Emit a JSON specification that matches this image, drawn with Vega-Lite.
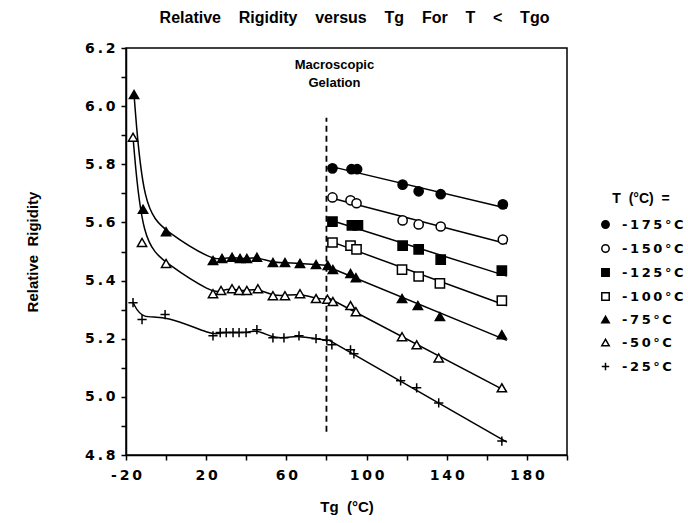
{
  "$schema": "https://vega.github.io/schema/vega-lite/v6.json",
  "width": 441,
  "height": 407,
  "autosize": {"type": "none"},
  "padding": {"left": 126, "top": 48, "right": 121, "bottom": 68},
  "background": "white",
  "config": {
    "view": {"stroke": "black", "strokeWidth": 1.5},
    "axis": {
      "grid": false,
      "domainColor": "black",
      "domainWidth": 1.5,
      "tickColor": "black",
      "tickWidth": 1.5,
      "tickSize": 5,
      "labelColor": "black",
      "labelFont": "DejaVu Sans",
      "labelFontWeight": "bold",
      "labelFontSize": 14,
      "titleColor": "black",
      "titleFont": "Liberation Sans Narrow, Liberation Sans",
      "titleFontWeight": "bold",
      "titleFontSize": 15
    }
  },
  "title": {
    "text": "Relative\u00a0\u00a0\u00a0 Rigidity\u00a0\u00a0\u00a0 versus\u00a0\u00a0\u00a0 Tg\u00a0\u00a0\u00a0 For\u00a0\u00a0\u00a0 T\u00a0\u00a0\u00a0 <\u00a0\u00a0\u00a0 Tgo",
    "font": "Liberation Sans Narrow, Liberation Sans",
    "fontSize": 16,
    "fontWeight": "bold",
    "color": "black",
    "offset": 15,
    "dx": 8
  },
  "data": {
    "values": [
      {"T": "-175°C", "Tg": 83, "R": 5.786, "part": "R"},
      {"T": "-175°C", "Tg": 92.5, "R": 5.783, "part": "R"},
      {"T": "-175°C", "Tg": 95.3, "R": 5.783, "part": "R"},
      {"T": "-175°C", "Tg": 118, "R": 5.73, "part": "R"},
      {"T": "-175°C", "Tg": 126, "R": 5.707, "part": "R"},
      {"T": "-175°C", "Tg": 137, "R": 5.697, "part": "R"},
      {"T": "-175°C", "Tg": 168, "R": 5.662, "part": "R"},

      {"T": "-150°C", "Tg": 83, "R": 5.686, "part": "R"},
      {"T": "-150°C", "Tg": 92, "R": 5.676, "part": "R"},
      {"T": "-150°C", "Tg": 95, "R": 5.666, "part": "R"},
      {"T": "-150°C", "Tg": 118, "R": 5.607, "part": "R"},
      {"T": "-150°C", "Tg": 126, "R": 5.593, "part": "R"},
      {"T": "-150°C", "Tg": 137, "R": 5.586, "part": "R"},
      {"T": "-150°C", "Tg": 168, "R": 5.541, "part": "R"},

      {"T": "-125°C", "Tg": 83, "R": 5.603, "part": "R"},
      {"T": "-125°C", "Tg": 92.7, "R": 5.59, "part": "R"},
      {"T": "-125°C", "Tg": 95.7, "R": 5.59, "part": "R"},
      {"T": "-125°C", "Tg": 118, "R": 5.52, "part": "R"},
      {"T": "-125°C", "Tg": 126, "R": 5.507, "part": "R"},
      {"T": "-125°C", "Tg": 137, "R": 5.472, "part": "R"},
      {"T": "-125°C", "Tg": 167.5, "R": 5.434, "part": "R"},

      {"T": "-100°C", "Tg": 83, "R": 5.531, "part": "R"},
      {"T": "-100°C", "Tg": 92, "R": 5.52, "part": "R"},
      {"T": "-100°C", "Tg": 95, "R": 5.507, "part": "R"},
      {"T": "-100°C", "Tg": 117.7, "R": 5.438, "part": "R"},
      {"T": "-100°C", "Tg": 126, "R": 5.414, "part": "R"},
      {"T": "-100°C", "Tg": 136.6, "R": 5.39, "part": "R"},
      {"T": "-100°C", "Tg": 167.5, "R": 5.331, "part": "R"},

      {"T": "-75°C", "Tg": -16, "R": 6.04, "part": "L"},
      {"T": "-75°C", "Tg": -11.5, "R": 5.645, "part": "L"},
      {"T": "-75°C", "Tg": 0, "R": 5.568, "part": "L"},
      {"T": "-75°C", "Tg": 23.4, "R": 5.469, "part": "L"},
      {"T": "-75°C", "Tg": 27.9, "R": 5.476, "part": "L"},
      {"T": "-75°C", "Tg": 32.9, "R": 5.48, "part": "L"},
      {"T": "-75°C", "Tg": 36.9, "R": 5.476, "part": "L"},
      {"T": "-75°C", "Tg": 40.3, "R": 5.476, "part": "L"},
      {"T": "-75°C", "Tg": 45.3, "R": 5.48, "part": "L"},
      {"T": "-75°C", "Tg": 53.3, "R": 5.462, "part": "L"},
      {"T": "-75°C", "Tg": 59.3, "R": 5.462, "part": "L"},
      {"T": "-75°C", "Tg": 66.8, "R": 5.459, "part": "L"},
      {"T": "-75°C", "Tg": 74.8, "R": 5.455, "part": "L"},
      {"T": "-75°C", "Tg": 80.7, "R": 5.452, "part": "B"},
      {"T": "-75°C", "Tg": 83.2, "R": 5.438, "part": "R"},
      {"T": "-75°C", "Tg": 92, "R": 5.424, "part": "R"},
      {"T": "-75°C", "Tg": 94.7, "R": 5.41, "part": "R"},
      {"T": "-75°C", "Tg": 117.7, "R": 5.338, "part": "R"},
      {"T": "-75°C", "Tg": 125.6, "R": 5.314, "part": "R"},
      {"T": "-75°C", "Tg": 136.6, "R": 5.276, "part": "R"},
      {"T": "-75°C", "Tg": 167.5, "R": 5.214, "part": "R"},

      {"T": "-50°C", "Tg": -16.5, "R": 5.893, "part": "L"},
      {"T": "-50°C", "Tg": -12, "R": 5.531, "part": "L"},
      {"T": "-50°C", "Tg": 0, "R": 5.459, "part": "L"},
      {"T": "-50°C", "Tg": 23.4, "R": 5.355, "part": "L"},
      {"T": "-50°C", "Tg": 27.4, "R": 5.366, "part": "L"},
      {"T": "-50°C", "Tg": 32.9, "R": 5.372, "part": "L"},
      {"T": "-50°C", "Tg": 36.4, "R": 5.366, "part": "L"},
      {"T": "-50°C", "Tg": 40.3, "R": 5.366, "part": "L"},
      {"T": "-50°C", "Tg": 45.8, "R": 5.372, "part": "L"},
      {"T": "-50°C", "Tg": 53.3, "R": 5.348, "part": "L"},
      {"T": "-50°C", "Tg": 59.3, "R": 5.348, "part": "L"},
      {"T": "-50°C", "Tg": 66.8, "R": 5.355, "part": "L"},
      {"T": "-50°C", "Tg": 74.8, "R": 5.338, "part": "L"},
      {"T": "-50°C", "Tg": 80.5, "R": 5.336, "part": "B"},
      {"T": "-50°C", "Tg": 83.2, "R": 5.328, "part": "R"},
      {"T": "-50°C", "Tg": 92, "R": 5.314, "part": "R"},
      {"T": "-50°C", "Tg": 94.7, "R": 5.293, "part": "R"},
      {"T": "-50°C", "Tg": 117.7, "R": 5.207, "part": "R"},
      {"T": "-50°C", "Tg": 125, "R": 5.179, "part": "R"},
      {"T": "-50°C", "Tg": 136, "R": 5.134, "part": "R"},
      {"T": "-50°C", "Tg": 167.5, "R": 5.031, "part": "R"},

      {"T": "-25°C", "Tg": -16.5, "R": 5.324, "part": "L"},
      {"T": "-25°C", "Tg": -12, "R": 5.266, "part": "L"},
      {"T": "-25°C", "Tg": -0.5, "R": 5.283, "part": "L"},
      {"T": "-25°C", "Tg": 23.4, "R": 5.21, "part": "L"},
      {"T": "-25°C", "Tg": 27, "R": 5.221, "part": "L"},
      {"T": "-25°C", "Tg": 30, "R": 5.221, "part": "L"},
      {"T": "-25°C", "Tg": 33.4, "R": 5.221, "part": "L"},
      {"T": "-25°C", "Tg": 36.4, "R": 5.221, "part": "L"},
      {"T": "-25°C", "Tg": 39.9, "R": 5.221, "part": "L"},
      {"T": "-25°C", "Tg": 45.3, "R": 5.231, "part": "L"},
      {"T": "-25°C", "Tg": 53.3, "R": 5.203, "part": "L"},
      {"T": "-25°C", "Tg": 58.8, "R": 5.203, "part": "L"},
      {"T": "-25°C", "Tg": 66.3, "R": 5.21, "part": "L"},
      {"T": "-25°C", "Tg": 74.8, "R": 5.2, "part": "L"},
      {"T": "-25°C", "Tg": 80.2, "R": 5.195, "part": "B"},
      {"T": "-25°C", "Tg": 82.7, "R": 5.179, "part": "R"},
      {"T": "-25°C", "Tg": 92, "R": 5.162, "part": "R"},
      {"T": "-25°C", "Tg": 93.7, "R": 5.148, "part": "R"},
      {"T": "-25°C", "Tg": 117, "R": 5.055, "part": "R"},
      {"T": "-25°C", "Tg": 125, "R": 5.031, "part": "R"},
      {"T": "-25°C", "Tg": 136, "R": 4.979, "part": "R"},
      {"T": "-25°C", "Tg": 167.5, "R": 4.848, "part": "R"}
    ]
  },
  "encoding": {
    "x": {
      "field": "Tg",
      "type": "quantitative",
      "scale": {"domain": [-20, 200], "nice": false, "zero": false},
      "axis": {
        "title": "Tg\u00a0 (°C)",
        "values": [-20, 0, 20, 40, 60, 80, 100, 120, 140, 160, 180, 200],
        "labelExpr": "indexof([-20, 20, 60, 100, 140, 180], datum.value) >= 0 ? join(split(toString(datum.value), ''), '\u2009') : ''",
        "labelPadding": 8,
        "titlePadding": 17,
        "labelFlush": false,
        "labelOverlap": false
      }
    },
    "y": {
      "field": "R",
      "type": "quantitative",
      "scale": {"domain": [4.8, 6.2], "nice": false, "zero": false},
      "axis": {
        "title": "Relative\u00a0 Rigidity",
        "values": [4.8, 4.9, 5.0, 5.1, 5.2, 5.3, 5.4, 5.5, 5.6, 5.7, 5.8, 5.9, 6.0, 6.1, 6.2],
        "labelExpr": "round(datum.value * 10) % 2 == 0 ? join(split(format(datum.value, '.1f'), ''), '\u2009') : ''",
        "labelPadding": 6,
        "titlePadding": 44,
        "labelFlush": false,
        "labelOverlap": false
      }
    }
  },
  "layer": [
    {
      "data": {"values": [{"x": 80, "y1": 4.88, "y2": 5.96}]},
      "mark": {"type": "rule", "color": "black", "strokeWidth": 1.8, "strokeDash": [6, 4]},
      "encoding": {
        "x": {"field": "x", "type": "quantitative"},
        "y": {"field": "y1", "type": "quantitative"},
        "y2": {"field": "y2"}
      }
    },
    {
      "data": {"values": [{"x": 84, "y": 6.14, "label": "Macroscopic"}]},
      "mark": {
        "type": "text",
        "text": ["Macroscopic", "Gelation"],
        "font": "Liberation Sans Narrow, Liberation Sans",
        "fontWeight": "bold",
        "fontSize": 13,
        "lineHeight": 18,
        "align": "center",
        "baseline": "middle",
        "color": "black"
      },
      "encoding": {
        "x": {"field": "x", "type": "quantitative"},
        "y": {"field": "y", "type": "quantitative"}
      }
    },
    {
      "transform": [{"filter": "datum.part !== 'R'"}],
      "mark": {"type": "line", "interpolate": "basis", "color": "black", "strokeWidth": 1.5},
      "encoding": {"detail": {"field": "T"}}
    },
    {
      "transform": [
        {"filter": "datum.part !== 'L'"},
        {"regression": "R", "on": "Tg", "groupby": ["T"], "extent": [81, 170]}
      ],
      "mark": {"type": "line", "color": "black", "strokeWidth": 1.5},
      "encoding": {"detail": {"field": "T"}}
    },
    {
      "mark": {"type": "point", "filled": true, "stroke": "black", "strokeWidth": 1.5, "size": 85, "opacity": 1},
      "encoding": {
        "shape": {
          "field": "T",
          "type": "nominal",
          "scale": {
            "domain": ["-175°C", "-150°C", "-125°C", "-100°C", "-75°C", "-50°C", "-25°C"],
            "range": ["circle", "circle", "square", "square", "triangle-up", "triangle-up", "M-1,0H1M0,-1V1"]
          },
          "legend": {
            "title": "T\u00a0 (°C)\u00a0 =",
            "orient": "none",
            "legendX": 473,
            "legendY": 144,
            "titleFont": "Liberation Sans Narrow, Liberation Sans",
            "titleFontSize": 14,
            "titleFontWeight": "bold",
            "titleColor": "black",
            "titleAnchor": "middle",
            "titlePadding": 12,
            "labelFont": "DejaVu Sans",
            "labelFontWeight": "bold",
            "labelFontSize": 13,
            "labelColor": "black",
            "labelExpr": "join(split(datum.label, ''), '\u2009')",
            "labelOffset": 10,
            "rowPadding": 9,
            "symbolSize": 55,
            "encode": {"symbols": {"update": {"stroke": {"value": "black"}, "strokeWidth": {"value": 1.5}, "opacity": {"value": 1}}}}
          }
        },
        "fill": {
          "field": "T",
          "type": "nominal",
          "scale": {
            "domain": ["-175°C", "-150°C", "-125°C", "-100°C", "-75°C", "-50°C", "-25°C"],
            "range": ["black", "white", "black", "white", "black", "white", "white"]
          },
          "legend": {
            "title": "T\u00a0 (°C)\u00a0 =",
            "orient": "none",
            "legendX": 473,
            "legendY": 144,
            "titleFont": "Liberation Sans Narrow, Liberation Sans",
            "titleFontSize": 14,
            "titleFontWeight": "bold",
            "titleColor": "black",
            "titleAnchor": "middle",
            "titlePadding": 12,
            "labelFont": "DejaVu Sans",
            "labelFontWeight": "bold",
            "labelFontSize": 13,
            "labelColor": "black",
            "labelExpr": "join(split(datum.label, ''), '\u2009')",
            "labelOffset": 10,
            "rowPadding": 9,
            "symbolSize": 55,
            "encode": {"symbols": {"update": {"stroke": {"value": "black"}, "strokeWidth": {"value": 1.5}, "opacity": {"value": 1}}}}
          }
        }
      }
    }
  ]
}
